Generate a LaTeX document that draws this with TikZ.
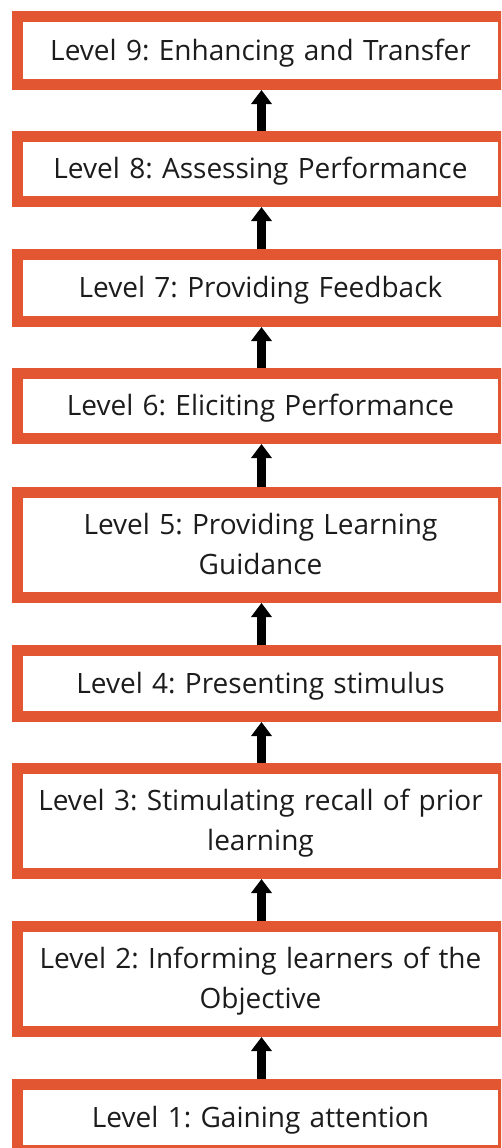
\documentclass[tikz,border=0pt]{standalone}
\usepackage{fontspec}
\setmainfont{Open Sans}
\usetikzlibrary{arrows.meta}
\definecolor{boxorange}{RGB}{226,87,50}
\definecolor{txtgray}{RGB}{28,28,28}
\newcommand{\hs}{\rule{0pt}{26pt}}
\newcommand{\ds}{\rule[-7pt]{0pt}{7pt}}
\frenchspacing
\begin{document}
\begin{tikzpicture}[x=1pt,y=1pt,
  lvl/.style={draw=boxorange, line width=11pt, fill=white, minimum width=486pt,
    text width=476pt, align=center, inner sep=0pt, text=txtgray,
    font=\fontsize{28}{40}\selectfont},
  uparrow/.style={line width=9.5pt, draw=black, -{Triangle[length=14pt,width=20pt]}}]
\useasboundingbox (0,0) rectangle (501,-1148);
\clip (0,0) rectangle (501,-1148);
\fill[white] (0,0) rectangle (501,-1148);
\node[lvl, minimum height=68pt]  (b9) at (260.5,-50.5)  {\hs Level 9: Enhancing and Transfer\ds};
\node[lvl, minimum height=65pt]  (b8) at (260.5,-169)   {\hs Level 8: Assessing Performance\ds};
\node[lvl, minimum height=67pt]  (b7) at (260.5,-288)   {\hs Level 7: Providing Feedback\ds};
\node[lvl, minimum height=65pt]  (b6) at (260.5,-406)   {\hs Level 6: Eliciting Performance\ds};
\node[lvl, minimum height=105pt] (b5) at (260.5,-545)   {\hs Level 5: Providing Learning\\Guidance\ds};
\node[lvl, minimum height=66pt]  (b4) at (260.5,-683.5) {\hs Level 4: Presenting stimulus\ds};
\node[lvl, minimum height=105pt] (b3) at (260.5,-821)   {\hs Level 3: Stimulating recall of prior\\learning\ds};
\node[lvl, minimum height=105pt] (b2) at (260.5,-979)   {\hs Level 2: Informing learners of the\\Objective\ds};
\node[lvl, minimum height=66pt]  (b1) at (260.5,-1117.5){\hs Level 1: Gaining attention\ds};
\foreach \lo/\hi in {b1/b2,b2/b3,b3/b4,b4/b5,b5/b6,b6/b7,b7/b8,b8/b9}
  \draw[uparrow] ([xshift=1pt]\lo.north) -- ([xshift=1pt]\hi.south);
\end{tikzpicture}
\end{document}
